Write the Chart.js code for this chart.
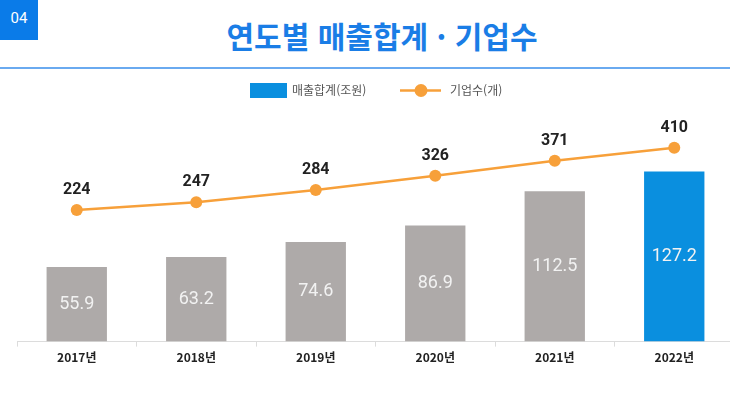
<!DOCTYPE html>
<html lang="ko">
<head>
<meta charset="utf-8">
<script src="https://cdn.jsdelivr.net/npm/chart.js@4.4.1/dist/chart.umd.min.js"></script>
<style>
  html, body { margin: 0; padding: 0; background: #fff; overflow: hidden; width: 730px; height: 394px; }
  .num { position: absolute; left: 0; top: 0; width: 38px; height: 40px; background: #0a7be8; color: #fff;
         font: 15px "Roboto", sans-serif; text-align: center; line-height: 36px; }
  .title { position: absolute; left: 0; top: 13px; width: 764px; text-align: center; color: #1a7de6;
           font: bold 30px "Noto Sans CJK KR", sans-serif; }
  .rule { position: absolute; left: 0; top: 67px; width: 730px; height: 2px; background: #6aaaf0; }
  .wrap { position: absolute; left: 0; top: 0; width: 740px; height: 394px; }
</style>
</head>
<body>
<div class="num">04</div>
<div class="title">연도별 매출합계 · 기업수</div>
<div class="rule"></div>
<div class="wrap"><canvas id="chart"></canvas></div>
<script>
// chart data
const years = ['2017년', '2018년', '2019년', '2020년', '2021년', '2022년'];
const sales = [55.9, 63.2, 74.6, 86.9, 112.5, 127.2];
const companies = [224, 247, 284, 326, 371, 410];
const salesLabel = '매출합계(조원)';
const companiesLabel = '기업수(개)';

const GRAY = '#aeaaa9';
const BLUE = '#0a8fdf';
const ORANGE = '#f7a03a';

// value labels: inside bars (centered) and above line points
const valueLabels = {
    id: 'valueLabels',
    afterDatasetsDraw(chart) {
        const ctx = chart.ctx;
        ctx.save();
        ctx.textAlign = 'center';
        ctx.textBaseline = 'middle';
        chart.data.datasets.forEach((ds, i) => {
            const meta = chart.getDatasetMeta(i);
            meta.data.forEach((el, j) => {
                if (ds.type === 'bar') {
                    ctx.font = '18px Roboto, sans-serif';
                    ctx.fillStyle = '#f2f2f2';
                    ctx.fillText(ds.data[j].toFixed(1), el.x, (el.y + el.base) / 2);
                } else {
                    ctx.font = 'bold 16px Roboto, sans-serif';
                    ctx.fillStyle = '#222';
                    ctx.fillText(String(ds.data[j]), el.x, el.y - 20);
                }
            });
        });
        ctx.restore();
    }
};

// legend: blue box for bars, line + dot for the company count
const customLegend = {
    id: 'customLegend',
    afterDraw(chart) {
        const ctx = chart.ctx;
        const y = 90.5;
        ctx.save();
        ctx.font = '12px "Noto Sans CJK KR", sans-serif';
        ctx.textBaseline = 'middle';
        ctx.fillStyle = BLUE;
        ctx.fillRect(250, 83, 37, 15);
        ctx.fillStyle = '#555';
        ctx.fillText(chart.data.datasets[1].label, 292, y);

        ctx.strokeStyle = ORANGE;
        ctx.lineWidth = 2.5;
        ctx.beginPath();
        ctx.moveTo(400, y);
        ctx.lineTo(441, y);
        ctx.stroke();
        ctx.fillStyle = ORANGE;
        ctx.beginPath();
        ctx.arc(421, y, 6.5, 0, Math.PI * 2);
        ctx.fill();
        ctx.fillStyle = '#555';
        ctx.fillText(chart.data.datasets[0].label, 450, y);
        ctx.restore();
    }
};

new Chart(document.getElementById('chart'), {
    data: {
        labels: years,
        datasets: [
            {
                type: 'line',
                label: companiesLabel,
                data: companies,
                yAxisID: 'y1',
                borderColor: ORANGE,
                backgroundColor: ORANGE,
                borderWidth: 2.5,
                pointRadius: 6,
                pointBackgroundColor: ORANGE,
                pointBorderWidth: 0,
                tension: 0,
                order: 0
            },
            {
                type: 'bar',
                label: salesLabel,
                data: sales,
                yAxisID: 'y',
                backgroundColor: sales.map((v, i) => i === sales.length - 1 ? BLUE : GRAY),
                categoryPercentage: 1,
                barPercentage: 0.505,
                order: 1
            }
        ]
    },
    options: {
        responsive: true,
        maintainAspectRatio: false,
        animation: false,
        layout: { padding: { top: 101, left: 17, right: 4, bottom: 25 } },
        plugins: {
            legend: { display: false },
            tooltip: { enabled: false }
        },
        scales: {
            x: {
                offset: true,
                border: { color: '#dcdcdc' },
                grid: { drawOnChartArea: false, drawTicks: true, tickLength: 5, color: '#dcdcdc', offset: true },
                ticks: {
                    color: '#222',
                    padding: 4,
                    font: { family: '"Noto Sans CJK KR", sans-serif', size: 12, weight: 'bold' }
                }
            },
            y: { display: false, min: 0, max: 180 },
            y1: { display: false, min: -170, max: 550 }
        }
    },
    plugins: [valueLabels, customLegend]
});
</script>
</body>
</html>
